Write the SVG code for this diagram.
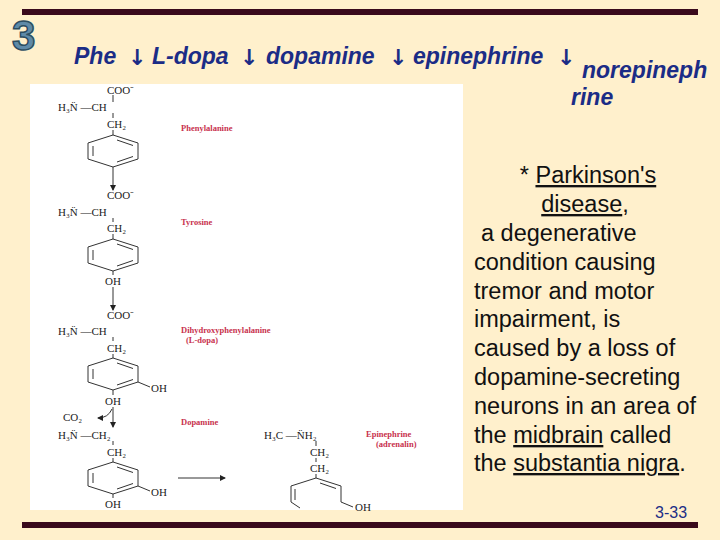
<svg xmlns="http://www.w3.org/2000/svg" width="720" height="540" viewBox="0 0 720 540">
<defs>
<style>
.c{font-family:"Liberation Serif",serif;font-size:11px;fill:#222}
.l{font-family:"Liberation Serif",serif;font-size:8.5px;font-weight:bold;fill:#c8324e}
.b{stroke:#333;stroke-width:1;fill:none}
.t{font-family:"Liberation Sans",Arial,sans-serif;font-size:23.5px;fill:#111}
.h{font-family:"Liberation Sans",Arial,sans-serif;font-size:23px;font-style:italic;font-weight:bold;fill:#1b2c86}
.a{font-family:"DejaVu Sans",sans-serif;font-size:22px;font-weight:bold;fill:#1b2c86}
.ul{text-decoration:underline}
</style>
<marker id="ah" markerWidth="6" markerHeight="6" refX="5" refY="3" orient="auto"><path d="M0,0L6,3L0,6z" fill="#222"/></marker>
<g id="ring"><path class="b" d="M0,-16L25,-8L25,8L0,16L-25,8L-25,-8Z M4,-11L20,-5.5 M20,5.5L4,11 M-20,-5L-20,5"/></g>
</defs>
<rect width="720" height="540" fill="#fff0cc"/>
<rect x="22" y="9" width="676" height="6" fill="#3a0a1c"/>
<rect x="22" y="522" width="676" height="6" fill="#3a0a1c"/>
<text x="12" y="50" font-family="Liberation Sans,Arial,sans-serif" font-size="42" font-weight="bold" fill="#5f8aa8" stroke="#2c4e62" stroke-width="1.5">3</text>
<g id="title">
<text class="h" x="74" y="64">Phe</text>
<text class="a" x="128" y="65">↓</text>
<text class="h" x="152" y="64">L-dopa</text>
<text class="a" x="240" y="65">↓</text>
<text class="h" x="266" y="64">dopamine</text>
<text class="a" x="389" y="65">↓</text>
<text class="h" x="413" y="64">epinephrine</text>
<text class="a" x="557" y="65">↓</text>
<text class="h" x="582" y="78">norepineph</text>
<text class="h" x="571" y="105">rine</text>
</g>
<circle cx="452" cy="104" r="2.5" fill="#6a8aa0"/>
<g id="panel">
<rect x="30" y="84" width="433" height="426" fill="#fff"/>
<g id="phe">
<text class="c" x="107" y="94">COO⁻</text>
<text class="c" x="58" y="111">H₃N̈ —CH</text>
<line class="b" x1="113" y1="95" x2="113" y2="102"/>
<line class="b" x1="113" y1="113" x2="113" y2="118"/>
<text class="c" x="107" y="128">CH₂</text>
<line class="b" x1="113" y1="130" x2="113" y2="135"/>
<use href="#ring" x="113" y="151"/>
<text class="l" x="181" y="131">Phenylalanine</text>
</g>
<line class="b" x1="113" y1="167" x2="113" y2="190" marker-end="url(#ah)"/>
<g id="tyr">
<text class="c" x="107" y="199">COO⁻</text>
<text class="c" x="58" y="216">H₃N̈ —CH</text>
<line class="b" x1="113" y1="218" x2="113" y2="222"/>
<text class="c" x="107" y="232">CH₂</text>
<line class="b" x1="113" y1="234" x2="113" y2="239"/>
<use href="#ring" x="113" y="255"/>
<line class="b" x1="113" y1="271" x2="113" y2="275"/>
<text class="c" x="105" y="285">OH</text>
<text class="l" x="181" y="225">Tyrosine</text>
</g>
<line class="b" x1="113" y1="287" x2="113" y2="310" marker-end="url(#ah)"/>
<g id="dopa">
<text class="c" x="107" y="319">COO⁻</text>
<text class="c" x="58" y="335">H₃N̈ —CH</text>
<line class="b" x1="113" y1="337" x2="113" y2="341"/>
<text class="c" x="107" y="352">CH₂</text>
<line class="b" x1="113" y1="354" x2="113" y2="358"/>
<use href="#ring" x="113" y="374"/>
<line class="b" x1="138" y1="382" x2="150" y2="387"/>
<text class="c" x="151" y="392">OH</text>
<line class="b" x1="113" y1="390" x2="113" y2="395"/>
<text class="c" x="105" y="405">OH</text>
<text class="l" x="181" y="333">Dihydroxyphenylalanine</text>
<text class="l" x="186" y="343">(L-dopa)</text>
</g>
<line class="b" x1="113" y1="407" x2="113" y2="427" marker-end="url(#ah)"/>
<path class="b" d="M112,409Q108,418 98,418" marker-end="url(#ah)"/>
<text class="c" x="63" y="421">CO₂</text>
<g id="dopamine">
<text class="c" x="58" y="439">H₃N̈ —CH₂</text>
<line class="b" x1="113" y1="441" x2="113" y2="445"/>
<text class="c" x="107" y="456">CH₂</text>
<line class="b" x1="113" y1="458" x2="113" y2="462"/>
<use href="#ring" x="113" y="478"/>
<line class="b" x1="138" y1="486" x2="150" y2="491"/>
<text class="c" x="151" y="496">OH</text>
<line class="b" x1="113" y1="494" x2="113" y2="498"/>
<text class="c" x="105" y="508">OH</text>
<text class="l" x="181" y="425">Dopamine</text>
</g>
<line class="b" x1="178" y1="478" x2="225" y2="478" marker-end="url(#ah)"/>
<g id="epi">
<text class="c" x="264" y="439">H₃C —N̈H₂</text>
<line class="b" x1="316" y1="441" x2="316" y2="446"/>
<text class="c" x="310" y="456">CH₂</text>
<line class="b" x1="316" y1="458" x2="316" y2="462"/>
<text class="c" x="310" y="472">CH₂</text>
<line class="b" x1="316" y1="474" x2="316" y2="478"/>
<path class="b" d="M316,478L341,486L341,502 M316,478L291,486L291,502L300,508 M320,483L336,488.5 M295,489L295,500"/>
<line class="b" x1="341" y1="502" x2="353" y2="507"/>
<text class="c" x="355" y="511">OH</text>
<text class="l" x="366" y="437">Epinephrine</text>
<text class="l" x="376" y="447">(adrenalin)</text>
</g>
</g>
<g id="notes">
<text class="t" text-anchor="middle" x="588" y="183">* <tspan class="ul">Parkinson's</tspan></text>
<text class="t" text-anchor="middle" x="585" y="212"><tspan class="ul">disease</tspan>,</text>
<text class="t" x="481" y="241">a degenerative</text>
<text class="t" x="474" y="270">condition causing</text>
<text class="t" x="474" y="299">tremor and motor</text>
<text class="t" x="474" y="327">impairment, is</text>
<text class="t" x="474" y="356">caused by a loss of</text>
<text class="t" x="474" y="385">dopamine-secreting</text>
<text class="t" x="474" y="414">neurons in an area of</text>
<text class="t" x="474" y="443">the <tspan class="ul">midbrain</tspan> called</text>
<text class="t" x="474" y="471">the <tspan class="ul">substantia nigra</tspan>.</text>
<text x="655" y="518" font-family="Liberation Sans,Arial,sans-serif" font-size="16" fill="#1b2c86">3-33</text>
</g>
</svg>
